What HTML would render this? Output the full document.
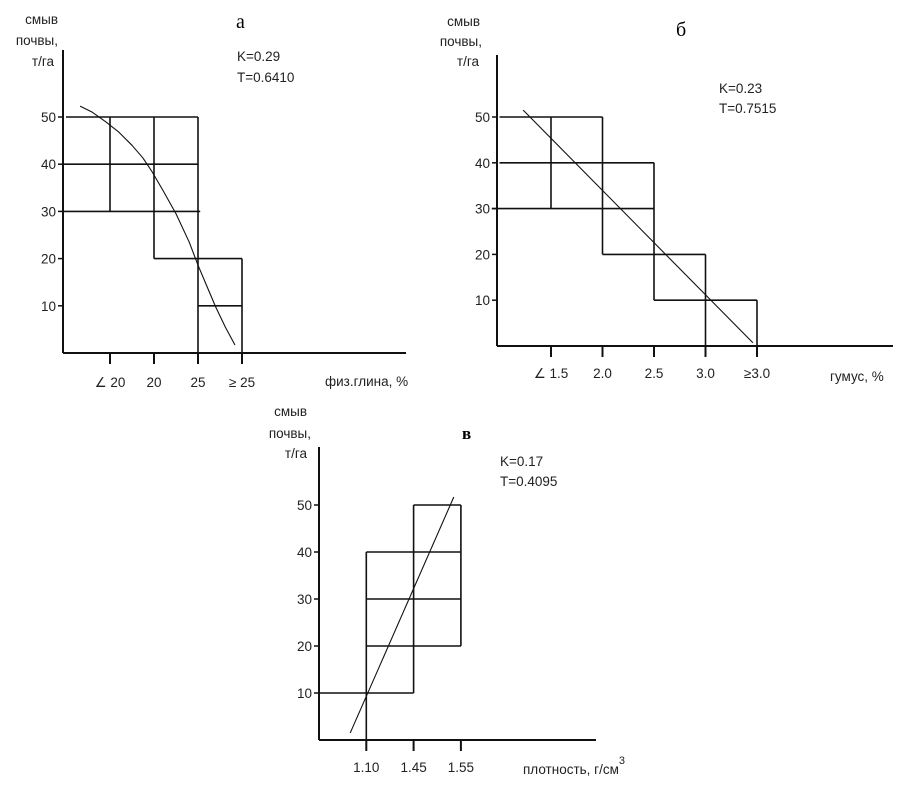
<!DOCTYPE html>
<html><head><meta charset="utf-8">
<style>
body{margin:0;background:#fff;}
svg{display:block;font-family:"Liberation Sans",sans-serif;}
.t{font-size:13.5px;fill:#222;}
.s{font-family:"Liberation Serif",serif;font-size:20px;fill:#000;}
</style></head>
<body>
<svg id="c" width="910" height="785" viewBox="0 0 910 785">
<g>
<text class="t" x="58" y="24" text-anchor="end">смыв</text>
<text class="t" x="58" y="45" text-anchor="end">почвы,</text>
<text class="t" x="54" y="66" text-anchor="end">т/га</text>
<text class="s" x="236" y="28">а</text>
<text class="t" x="237" y="61">K=0.29</text>
<text class="t" x="237" y="82">T=0.6410</text>
<text class="t" x="325" y="386">физ.глина, %</text>
</g>
<g>
<text class="t" x="480" y="26" text-anchor="end">смыв</text>
<text class="t" x="482" y="46" text-anchor="end">почвы,</text>
<text class="t" x="479" y="66" text-anchor="end">т/га</text>
<text class="s" x="676" y="36">б</text>
<text class="t" x="719" y="93">K=0.23</text>
<text class="t" x="719" y="113">T=0.7515</text>
<text class="t" x="830" y="381">гумус, %</text>
</g>
<g>
<text class="t" x="307" y="416" text-anchor="end">смыв</text>
<text class="t" x="311" y="438" text-anchor="end">почвы,</text>
<text class="t" x="307" y="458" text-anchor="end">т/га</text>
<text class="s" x="462" y="439" style="font-weight:bold;font-size:17px">в</text>
<text class="t" x="500" y="466">K=0.17</text>
<text class="t" x="500" y="486">T=0.4095</text>
<text class="t" x="523" y="774">плотность, г/см<tspan dy="-10" style="font-size:11px">3</tspan></text>
</g>
</svg>
<script>
// chart a
const aTicks=["∠ 20","20","25","≥ 25"];
const aYTicks=[10,20,30,40,50];
const aSegs=[[0,50,3,50],[-0.1,40,3,40],[-0.1,30,3.05,30],[1,50,1,30],[2,50,2,20],[3,50,3,0],[2,20,4,20],[4,20,4,0],[3,10,4,10]];
const aCurve=[[0.32,52.3],[0.6,51],[0.9,49],[1.2,46.8],[1.5,44],[1.75,41.3],[1.95,38.5],[2.2,34.5],[2.5,29.5],[2.8,23.5],[3,18.6],[3.2,14.2],[3.4,9.8],[3.62,5.5],[3.84,1.7]];
// chart b
const bTicks=["∠ 1.5","2.0","2.5","3.0","≥3.0"];
const bYTicks=[10,20,30,40,50];
const bSegs=[[0,50,2,50],[1,50,1,30],[2,50,2,20],[0,40,3,40],[3,40,3,10],[-0.15,30,3,30],[2,20,4,20],[4,20,4,0],[3,10,5,10],[5,10,5,0]];
const bCurve=[[0.46,51.5],[4.92,0.7]];
// chart c
const cTicks=["1.10","1.45","1.55"];
const cYTicks=[10,20,30,40,50];
const cSegs=[[1,40,1,-0.5],[1,40,3,40],[1,30,3,30],[1,20,3,20],[2,50,2,10],[2,50,3,50],[3,50,3,20],[0,10,2,10]];
const cCurve=[[0.66,1.5],[2.85,51.7]];

const svg=document.getElementById('c');
const NS='http://www.w3.org/2000/svg';
function mk(tag,at){const e=document.createElementNS(NS,tag);for(const k in at)e.setAttribute(k,at[k]);svg.appendChild(e);return e;}
function chart(p,ticks,yt,segs,curve,id){
  const X=i=>p.x0+p.dx*i, Y=v=>p.y0-p.ky*v;
  let e=mk('line',{x1:p.ax,y1:p.top,x2:p.ax,y2:p.y0,stroke:'#111','stroke-width':2});
  
  
  e=mk('line',{x1:p.ax,y1:p.y0,x2:p.xend,y2:p.y0,stroke:'#111','stroke-width':2});
  
  
  yt.forEach(v=>{
    e=mk('line',{x1:p.ax-5,y1:Y(v),x2:p.ax,y2:Y(v),stroke:'#111','stroke-width':1.5});
    
    
    e=mk('text',{x:p.ax-7,y:Y(v)+5,'text-anchor':'end',class:'t'});e.textContent=v;
    
    
  });
  ticks.forEach((t,i)=>{
    const x=X(i+1);
    e=mk('line',{x1:x,y1:p.y0,x2:x,y2:p.y0+11,stroke:'#111','stroke-width':2});
    
    
    e=mk('text',{x:x,y:p.ly,'text-anchor':'middle',class:'t'});e.textContent=t;
    
    
  });
  segs.forEach(s=>{
    e=mk('line',{x1:X(s[0]),y1:Y(s[1]),x2:X(s[2]),y2:Y(s[3]),stroke:'#111','stroke-width':1.6});
    
    
  });
  e=mk('polyline',{points:curve.map(c=>X(c[0])+','+Y(c[1])).join(' '),fill:'none',stroke:'#111','stroke-width':1.1,'stroke-linejoin':'round'});
  
  
}
chart({x0:66,dx:44,y0:353,ky:4.72,ax:63,top:50,xend:406,ly:387},aTicks,aYTicks,aSegs,aCurve,'chart-a');
chart({x0:499.5,dx:51.5,y0:346,ky:4.58,ax:497,top:55,xend:893,ly:378},bTicks,bYTicks,bSegs,bCurve,'chart-b');
chart({x0:319,dx:47.3,y0:740,ky:4.7,ax:319,top:447,xend:596,ly:772},cTicks,cYTicks,cSegs,cCurve,'chart-c');
</script>
</body></html>
